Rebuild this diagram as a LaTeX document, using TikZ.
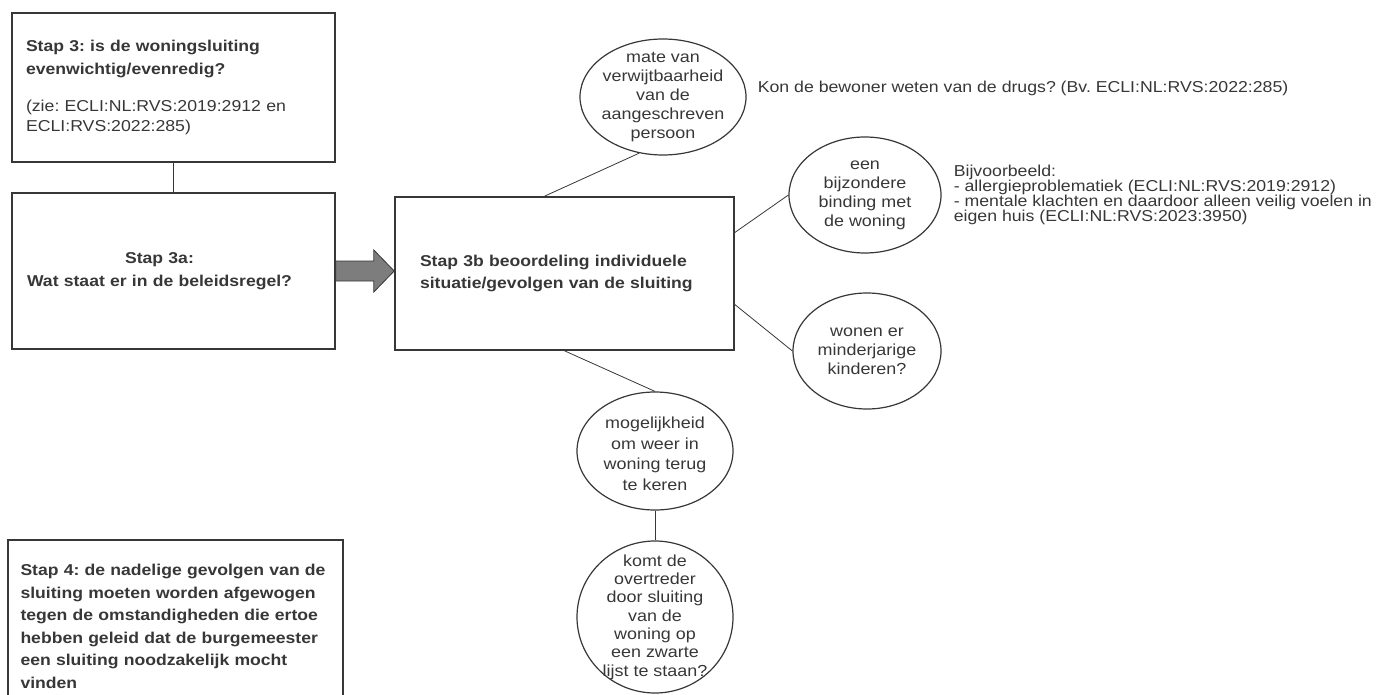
\documentclass[tikz,border=0pt]{standalone}
\usepackage{fontspec}
\setmainfont{Liberation Sans}[FakeStretch=1.12]
\usepackage{tikz}
\usetikzlibrary{positioning,shapes.geometric,calc}

\definecolor{ink}{RGB}{55,55,55}
\definecolor{arrowfill}{RGB}{125,125,125}

\tikzset{
  stapbox/.style={draw=ink, line width=1.6pt, rectangle, inner xsep=14pt, inner ysep=0pt, text=ink,
    font=\bfseries\fontsize{15.7}{22.5}\selectfont},
  bubble/.style={draw=ink, line width=1.2pt, ellipse, inner sep=0pt},
  bubtext/.style={align=center, text=ink, inner sep=0pt, font=\fontsize{16}{19}\selectfont},
  sidenote/.style={align=left, text=ink, inner sep=0pt, font=\fontsize{15.8}{15}\selectfont},
  link/.style={draw=ink, line width=0.8pt},
  blockarrow/.style={fill=arrowfill, draw=ink, line width=0.8pt}
}

\begin{document}
\frenchspacing
\begin{tikzpicture}[x=1pt, y=-1pt]
\clip (0,0) rectangle (1378,695);

\node[stapbox, text width=295pt, minimum height=149pt, align=left] (s3) at (173.5,87.5) {
  Stap 3: is de woningsluiting\\ evenwichtig/evenredig?\par
  \vspace{17pt}
  {\mdseries\fontsize{15.8}{20}\selectfont (zie: ECLI:NL:RVS:2019:2912 en\\ ECLI:RVS:2022:285)\par}};
\node[stapbox, text width=295pt, minimum height=156pt, align=center] (s3a) at (173.5,271) {
  \mbox{Stap 3a:\hspace{28pt}}\\ \mbox{Wat staat er in de beleidsregel?\hspace{28pt}}};
\node[stapbox, inner xsep=25pt, text width=289pt, minimum height=153pt, align=left] (s3b) at (564.5,273.5) {
  Stap 3b beoordeling individuele\\ situatie/gevolgen van de sluiting};
\node[stapbox, text width=310pt, inner xsep=12.5pt, minimum height=173pt, align=left] (s4) at (175.5,626.5) {
  Stap 4: de nadelige gevolgen van de\\ sluiting moeten worden afgewogen\\ tegen de omstandigheden die ertoe\\
  hebben geleid dat de burgemeester\\ een sluiting noodzakelijk mocht\\ vinden};

\node[bubble, minimum width=166pt, minimum height=116pt,
  label={[bubtext]center:mate van\\verwijtbaarheid\\van de\\aangeschreven\\persoon}] (e1) at (663,97) {};
\node[bubble, minimum width=152pt, minimum height=116pt,
  label={[bubtext]center:een\\bijzondere\\binding met\\de woning}] (e2) at (865,195) {};
\node[bubble, minimum width=148pt, minimum height=116pt,
  label={[bubtext]center:wonen er\\minderjarige\\kinderen?}] (e3) at (867,351) {};
\node[bubble, minimum width=156pt, minimum height=118pt,
  label={[bubtext, font=\fontsize{16}{20.5}\selectfont, yshift=-3pt]center:mogelijkheid\\om weer in\\woning terug\\te keren}] (e4) at (655,451) {};
\node[bubble, minimum width=156pt, minimum height=152pt,
  label={[bubtext, font=\fontsize{16}{18.3}\selectfont]center:komt de\\overtreder\\door sluiting\\van de\\woning op\\een zwarte\\lijst te staan?}] (e5) at (655,617) {};

\node[sidenote, right=11pt of e1, yshift=9pt] (kon) {Kon de bewoner weten van de drugs? (Bv. ECLI:NL:RVS:2022:285)};
\node[sidenote, right=12pt of e2] (bijv) {Bijvoorbeeld:\\- allergieproblematiek (ECLI:NL:RVS:2019:2912)\\
  - mentale klachten en daardoor alleen veilig voelen in\\eigen huis (ECLI:NL:RVS:2023:3950)};

\draw[link] (s3) -- (s3a);
\draw[blockarrow] ($(s3a.east)+(0,-10)$) -- ++(38,0) -- ++(0,-11) -- (s3b.west |- s3a.east)
  -- ($(s3a.east)+(38,21)$) -- ++(0,-11) -- ($(s3a.east)+(0,10)$) -- cycle;
\draw[link] ([xshift=-20pt]s3b.north) -- (e1.247);
\draw[link] ([yshift=41pt]s3b.east) -- (e2.west);
\draw[link] ([yshift=-31pt]s3b.east) -- (e3.west);
\draw[link] (s3b.south) -- (e4.north);
\draw[link] (e4) -- (e5);
\end{tikzpicture}
\end{document}
